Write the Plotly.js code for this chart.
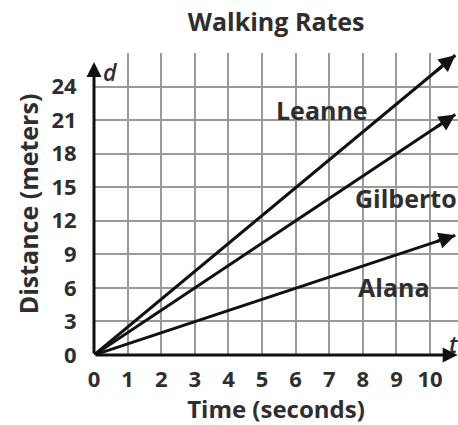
<!DOCTYPE html>
<html>
<head>
<meta charset="utf-8">
<script src="https://cdn.plot.ly/plotly-3.0.1.min.js"></script>
<style>html,body{margin:0;padding:0;background:#fff;}#chart{width:458px;height:425px;}</style>
</head>
<body>
<div id="chart"></div>
<script>
// Data
const timeEnds = [0, 10.75];          // seconds
const leanne   = [0, 26.8];           // meters
const gilberto = [0, 21.5];
const alana    = [0, 10.7];
const names    = ["Leanne", "Gilberto", "Alana"];
const xTicks   = [0,1,2,3,4,5,6,7,8,9,10];
const yTicks   = [0,3,6,9,12,15,18,21,24,27];
const yTickText= ["0","3","6","9","12","15","18","21","24",""];

const FONT = "Open Sans, sans-serif";
const TXT = "#2e2e2e";

const series = [leanne, gilberto, alana];
const traces = series.map((ys, i) => ({
  x: timeEnds, y: ys, type: "scatter", mode: "lines", name: names[i],
  line: {color: "#111", width: 3}, cliponaxis: false, hoverinfo: "skip"
}));

// arrowheads at line ends, tail set back along each line
const annotations = series.map(ys => {
  const n = ys.length - 1;
  const slope = (ys[n] - ys[0]) / (timeEnds[n] - timeEnds[0]);
  return {x: timeEnds[n], y: ys[n], ax: timeEnds[n] - 0.6, ay: ys[n] - 0.6 * slope,
    xref: "x", yref: "y", axref: "x", ayref: "y", text: "", showarrow: true,
    arrowhead: 2, arrowsize: 1.1, arrowwidth: 3, arrowcolor: "#111"};
});

// axes with arrows
annotations.push({x: 10.82, y: 0, ax: 0, ay: 0, xref: "x", yref: "y", axref: "x", ayref: "y",
  text: "", showarrow: true, arrowhead: 2, arrowsize: 1, arrowwidth: 3, arrowcolor: "#111"});
annotations.push({x: 0, y: 26.2, ax: 0, ay: 0, xref: "x", yref: "y", axref: "x", ayref: "y",
  text: "", showarrow: true, arrowhead: 2, arrowsize: 1, arrowwidth: 3, arrowcolor: "#111"});

const lab = (text, x, y, xanchor, italic) => ({
  x, y, xref: "x", yref: "y", text, showarrow: false, xanchor, yanchor: "middle",
  font: {family: FONT, size: italic ? 23 : 25, color: TXT, weight: italic ? 600 : 700, style: italic ? "italic" : "normal"}
});
annotations.push(lab(names[0], 6.79, 21.9, "center"));
annotations.push(lab(names[1], 7.72, 14.0, "left"));
annotations.push(lab(names[2], 7.8, 6.1, "left"));
annotations.push(lab("d", 0.47, 25.3, "center", true));
annotations.push(lab("t", 10.7, 0.95, "center", true));

const layout = {
  width: 458, height: 425,
  margin: {l: 94, r: 0, t: 53, b: 70, pad: 0},
  paper_bgcolor: "#fff", plot_bgcolor: "#fff",
  showlegend: false,
  title: {text: "<b>Walking Rates</b>", x: 0.603, xanchor: "center", y: 0.948, yanchor: "middle",
    font: {family: FONT, size: 25, color: TXT}},
  xaxis: {range: [0, 10.83], tickvals: xTicks, showgrid: true, gridcolor: "#9a9a9a", gridwidth: 2,
    zeroline: false, showline: false, ticks: "outside", ticklen: 5, tickcolor: "rgba(0,0,0,0)",
    tickfont: {family: FONT, size: 22, color: TXT, weight: 700},
    title: {text: "<b>Time (seconds)</b>", font: {family: FONT, size: 24, color: TXT}, standoff: 7},
    fixedrange: true},
  yaxis: {range: [0, 27], tickvals: yTicks, ticktext: yTickText, showgrid: true, gridcolor: "#9a9a9a", gridwidth: 2,
    zeroline: false, showline: false, ticks: "outside", ticklen: 12, tickcolor: "rgba(0,0,0,0)",
    tickfont: {family: FONT, size: 22, color: TXT, weight: 700},
    title: {text: "<b>Distance (meters)</b>", font: {family: FONT, size: 25, color: TXT}, standoff: 5},
    fixedrange: true},
  annotations
};

Plotly.newPlot("chart", traces, layout, {staticPlot: true, displayModeBar: false});
</script>
</body>
</html>
